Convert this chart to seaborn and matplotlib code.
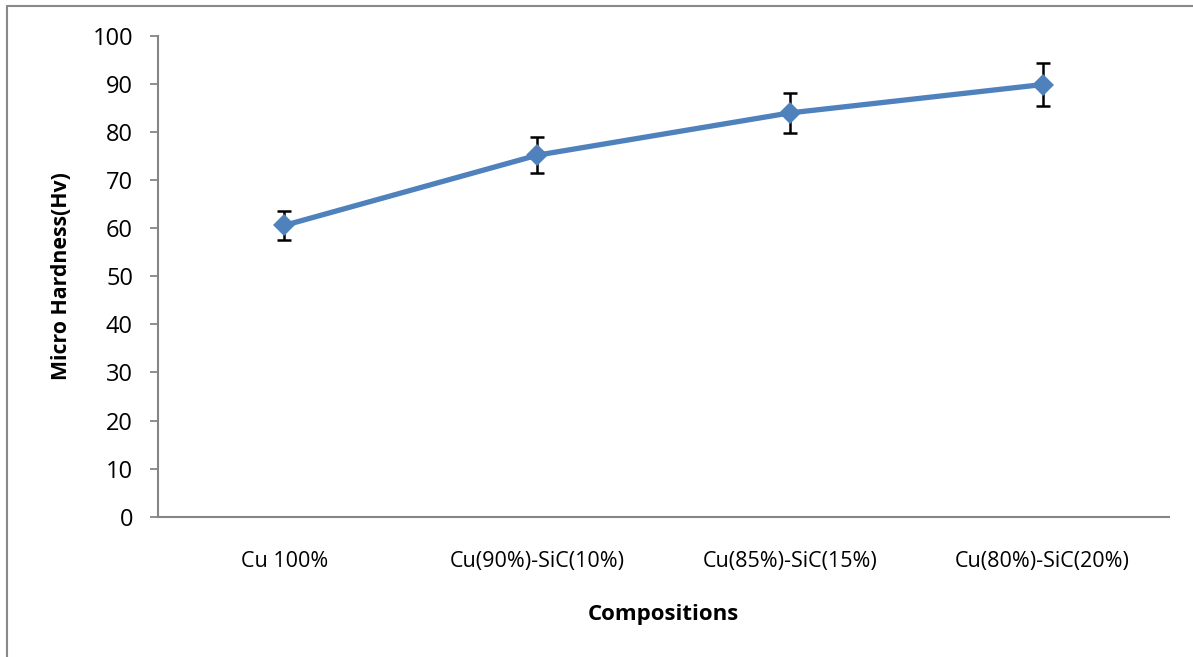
import matplotlib
matplotlib.use("Agg")
import matplotlib.pyplot as plt
from matplotlib.lines import Line2D
import seaborn as sns
import pandas as pd

compositions = ["Cu 100%", "Cu(90%)-SiC(10%)", "Cu(85%)-SiC(15%)", "Cu(80%)-SiC(20%)"]
hardness = [60.6, 75.2, 84.0, 89.9]
hardness_err = [3.0, 3.8, 4.1, 4.5]
y_ticks = [0, 10, 20, 30, 40, 50, 60, 70, 80, 90, 100]

sns.set_theme(style="white")
plt.rcParams["font.family"] = ["Open Sans", "DejaVu Sans"]

df = pd.DataFrame({"Compositions": compositions, "Hardness": hardness, "pos": range(len(compositions))})

W, H = 1193, 657
fig = plt.figure(figsize=(W / 100, H / 100), dpi=100)
ax = fig.add_axes([158 / W, 1 - 516.7 / H, (1169 - 158) / W, (516.7 - 36) / H])

line_color = "#4F81BD"
ax.errorbar(df["pos"], df["Hardness"], yerr=hardness_err, fmt="none",
            ecolor="black", elinewidth=1.8, capsize=5, capthick=1.8, zorder=2)
sns.lineplot(data=df, x="pos", y="Hardness", ax=ax, color=line_color,
             linewidth=3.8, marker="D", markersize=11, markeredgewidth=0,
             markerfacecolor=line_color, zorder=3)

ax.set_xlim(-0.5, len(compositions) - 0.5)
ax.set_ylim(0, 100)
ax.set_xticks(df["pos"])
ax.set_xticklabels(compositions)
ax.set_yticks(y_ticks)

for side in ["top", "right"]:
    ax.spines[side].set_visible(False)
for side in ["left", "bottom"]:
    ax.spines[side].set_color("#868686")
    ax.spines[side].set_linewidth(1.5)

ax.tick_params(axis="y", which="major", left=True, length=6, width=1.3,
               color="#868686", pad=12, labelsize=17, labelcolor="black")
ax.tick_params(axis="x", which="major", bottom=False, length=0, pad=25,
               labelsize=15.5, labelcolor="black")

ax.set_xlabel("Compositions", fontsize=16, fontweight="bold", labelpad=23, color="black")
ax.set_ylabel("Micro Hardness(Hv)", fontsize=15.3, fontweight="bold", labelpad=15, color="black")

# outer chart frame
fig.add_artist(Line2D([7 / W, 7 / W], [0, 1 - 6 / H], transform=fig.transFigure,
                      color="#898989", linewidth=1.5))
fig.add_artist(Line2D([7 / W, 1], [1 - 6 / H, 1 - 6 / H], transform=fig.transFigure,
                      color="#898989", linewidth=1.5))

fig.savefig("out.png", dpi=100, facecolor="white")
